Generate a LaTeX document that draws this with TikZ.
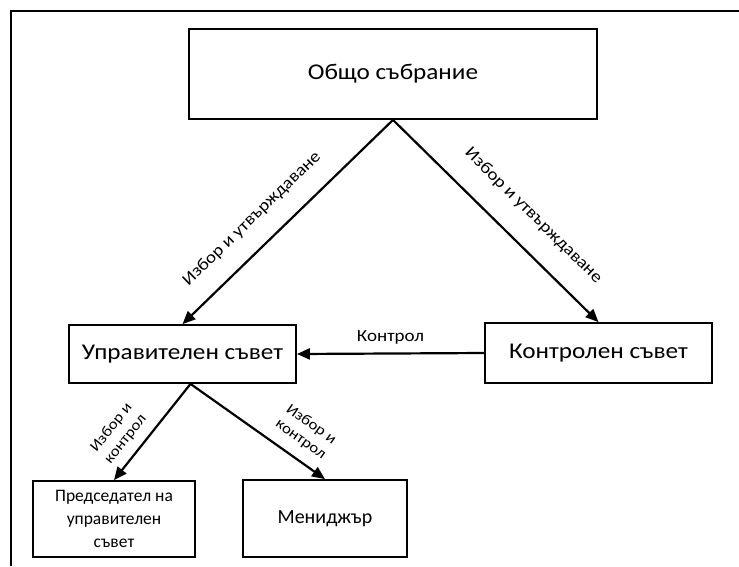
\documentclass[tikz,border=0pt]{standalone}
\usepackage{fontspec}
\setmainfont{Carlito}
\newfontfamily\widefont[FakeStretch=1.12]{Carlito}
\usetikzlibrary{arrows.meta}
\newcommand{\fs}[2]{\fontsize{#1}{#2}\selectfont}
\begin{document}
\begin{tikzpicture}[x=1pt, y=-1pt,
  box/.style={draw, line width=1.8pt, inner sep=0pt, align=center},
  bigtext/.style={font=\widefont\fs{22.5}{27}},
  link/.style={line width=2.2pt, -{Triangle[length=13pt, width=11pt]}},
  lbl/.style={sloped, inner sep=0pt, align=center, font=\widefont\fs{17}{20}},
  sublbl/.style={sloped, inner sep=0pt, align=center, font=\widefont\fs{15}{18}}]
\useasboundingbox (0,0) rectangle (739,566);
% open frame along the top and left edges
\draw[line width=2pt] (739,11) -- (11,11) -- (11,566);

% bodies of the company
\node[box, bigtext, minimum width=408pt, minimum height=90pt] (gm) at (393,74) {Общо събрание};
\node[box, bigtext, minimum width=227pt, minimum height=58pt] (upr) at (182.5,354) {Управителен съвет};
\node[box, bigtext, minimum width=227pt, minimum height=60pt] (ctrl) at (598.5,353) {Контролен съвет};
\node[box, font=\fs{17.5}{23}, minimum width=162pt, minimum height=76pt] (chair) at (114,519) {Председател на\\управителен\\съвет};
\node[box, font=\fs{20}{24}, minimum width=164pt, minimum height=77pt] (mgr) at (325,518.5) {Мениджър};

\coordinate (fork) at ([xshift=8pt]upr.south);

% relations
\draw[link] (gm.south) -- node[lbl, pos=0.58, above=19pt] {Избор и утвърждаване} (upr.north);
\draw[link] (gm.south) -- node[lbl, pos=0.58, above=22pt] {Избор и утвърждаване} (ctrl.north);
\draw[link] (ctrl.west) -- node[above=8pt, inner sep=0pt, font=\widefont\fs{17}{20}] {Контрол} (upr.east);
\draw[link] (fork) -- node[sublbl, pos=0.68, above=9pt] {Избор и\\контрол} (chair.north);
\draw[link] (fork) -- node[sublbl, pos=0.74, above=11pt] {Избор и\\контрол} (mgr.north);
\end{tikzpicture}
\end{document}
